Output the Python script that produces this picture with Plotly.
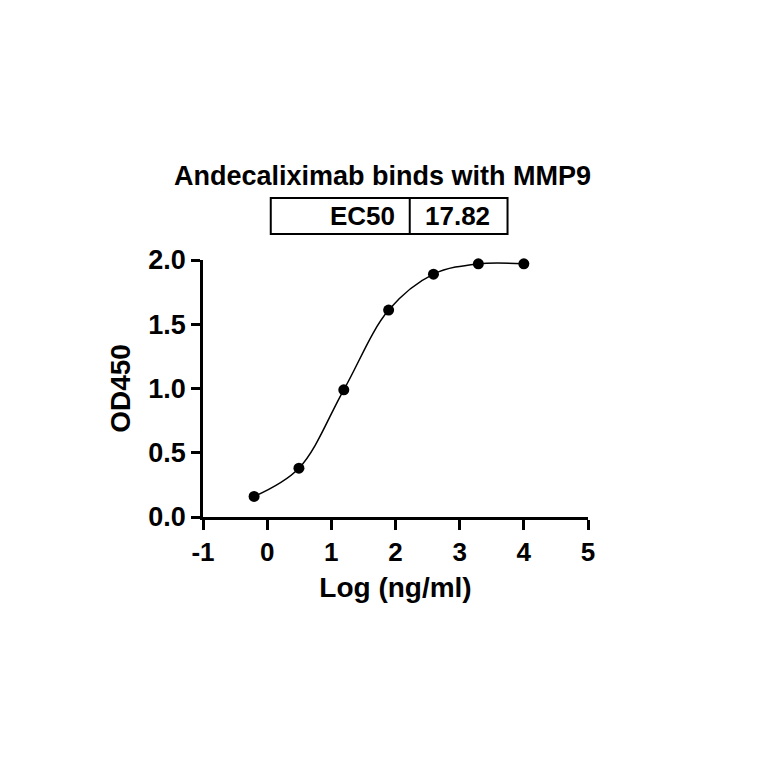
import plotly.graph_objects as go

# log10 concentration (ng/ml) and OD450 readings
log_conc = [-0.204, 0.495, 1.194, 1.893, 2.592, 3.291, 4.0]
od450 = [0.16, 0.38, 0.99, 1.61, 1.89, 1.97, 1.97]

x_ticks = [-1, 0, 1, 2, 3, 4, 5]
y_ticks = [0.0, 0.5, 1.0, 1.5, 2.0]

chart_title = "Andecaliximab binds with MMP9"
ec50_label = "EC50"
ec50_value = "17.82"

FONT = "Arial, Liberation Sans, Helvetica, sans-serif"

fig = go.Figure()

fig.add_trace(go.Scatter(
    x=log_conc, y=od450,
    mode="lines+markers",
    line=dict(color="black", width=1.5, shape="spline", smoothing=1.0),
    marker=dict(color="black", size=11),
    cliponaxis=False,
    showlegend=False,
))

# EC50 box above the plot
box_y0, box_y1 = 1.101, 1.241
fig.add_shape(type="rect", xref="paper", yref="paper",
              x0=0.176, x1=0.791, y0=box_y0, y1=box_y1,
              line=dict(color="black", width=2))
fig.add_shape(type="line", xref="paper", yref="paper",
              x0=0.537, x1=0.537, y0=box_y0, y1=box_y1,
              line=dict(color="black", width=2))

fig.add_annotation(text=chart_title, xref="paper", yref="paper",
                   x=0.4655, y=1.325, xanchor="center", yanchor="middle",
                   showarrow=False,
                   font=dict(family=FONT, size=27, color="black", weight="bold"))
fig.add_annotation(text=ec50_label, xref="paper", yref="paper",
                   x=0.505, y=1.172, xanchor="right", yanchor="middle",
                   showarrow=False,
                   font=dict(family=FONT, size=26, color="black", weight="bold"))
fig.add_annotation(text=ec50_value, xref="paper", yref="paper",
                   x=0.66, y=1.172, xanchor="center", yanchor="middle",
                   showarrow=False,
                   font=dict(family=FONT, size=26, color="black", weight="bold"))

fig.update_xaxes(
    range=[-1, 5], tickvals=x_ticks, ticktext=[str(v) for v in x_ticks],
    showline=True, linecolor="black", linewidth=2.5,
    ticks="outside", ticklen=10, tickwidth=2.5, tickcolor="black",
    showgrid=False, zeroline=False,
    tickfont=dict(family=FONT, size=26, color="black", weight="bold"),
    title=dict(text="Log (ng/ml)", standoff=12,
               font=dict(family=FONT, size=28, color="black", weight="bold")),
)
fig.update_yaxes(
    range=[0, 2], tickvals=y_ticks, ticktext=[f"{v:.1f}" for v in y_ticks],
    showline=True, linecolor="black", linewidth=2.5,
    ticks="outside", ticklen=9, tickwidth=2.5, tickcolor="black",
    showgrid=False, zeroline=False,
    tickfont=dict(family=FONT, size=27, color="black", weight="bold"),
    title=dict(text="OD450", standoff=10,
               font=dict(family=FONT, size=28, color="black", weight="bold")),
)

fig.update_layout(
    width=764, height=764,
    margin=dict(l=195, r=184, t=252, b=255, pad=0),
    plot_bgcolor="white", paper_bgcolor="white",
)

fig.write_html("out.html")
